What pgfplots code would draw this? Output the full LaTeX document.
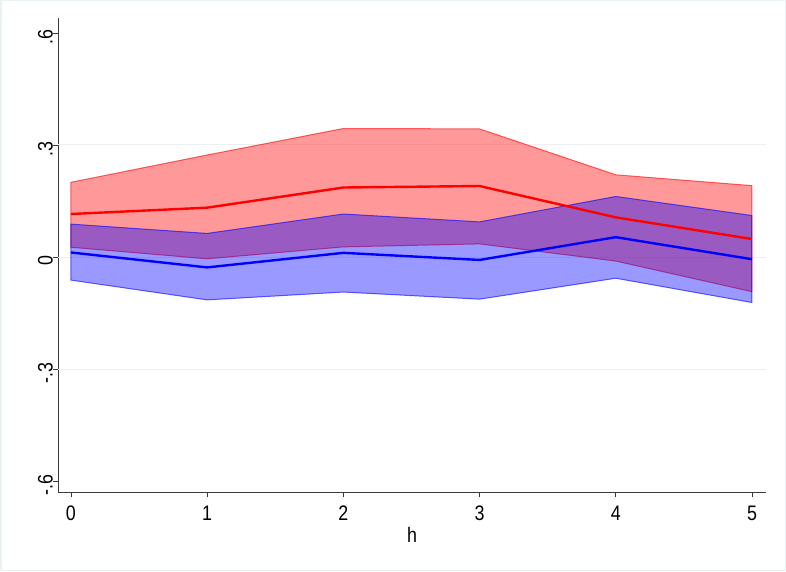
\documentclass[border=0pt]{standalone}
\usepackage{pgfplots}
\pgfplotsset{compat=1.18}
\usepackage{pgfplotstable}
\usepackage{fontspec}
\setmainfont{Liberation Sans}[FakeStretch=0.85]
\definecolor{framecol}{RGB}{234,242,243}
\definecolor{gridcol}{RGB}{234,240,242}
\definecolor{axiscol}{RGB}{60,60,60}
\pgfplotstableread{
h   rmid   bmid
0   0.115  0.012
1   0.132  -0.028
2   0.186  0.011
3   0.190  -0.008
4   0.106  0.053
5   0.048  -0.006
}\midtable
% red band: upper bound then lower bound reversed
\pgfplotstableread{
h  y
0  0.200
1  0.273
2  0.344
3  0.343
4  0.220
5  0.191
5  -0.093
4  -0.011
3  0.035
2  0.027
1  -0.005
0  0.026
}\redband
% blue band: upper bound then lower bound reversed
\pgfplotstableread{
h  y
0  0.088
1  0.063
2  0.115
3  0.094
4  0.162
5  0.111
5  -0.122
4  -0.057
3  -0.113
2  -0.094
1  -0.115
0  -0.062
}\blueband
\begin{document}
\begin{tikzpicture}
\path[use as bounding box] (0,0) rectangle (786pt,571pt);
\fill[white] (0,0) rectangle (786pt,571pt);
\draw[framecol, line width=1.5pt] (0.75pt,0.75pt) rectangle (785.25pt,570.25pt);
\begin{axis}[
  at={(58pt,79pt)}, anchor=south west,
  scale only axis, width=708pt, height=474pt,
  xmin=-0.095, xmax=5.103, ymin=-0.6295, ymax=0.640,
  axis x line*=bottom, axis y line*=left,
  axis line style={axiscol, line width=0.9pt},
  tick align=outside, major tick length=5pt,
  tick style={axiscol, line width=0.8pt},
  xtick={0,1,2,3,4,5},
  ytick={-0.6,-0.3,0,0.3,0.6},
  yticklabels={-.6,-.3,0,.3,.6},
  extra y ticks={-0.3,0,0.3},
  extra y tick labels={},
  extra y tick style={ymajorgrids=true, major tick length=0pt},
  grid style={gridcol, line width=0.9pt},
  /pgf/number format/assume math mode=true,
  ticklabel style={font=\fontsize{21}{25}\selectfont, text=black},
  yticklabel style={rotate=90, anchor=south, inner sep=0pt, xshift=-4pt},
  xticklabel style={anchor=north, inner sep=0pt, yshift=-9pt},
  xlabel={h},
  xlabel style={font=\fontsize{21}{25}\selectfont, inner sep=0pt, yshift=-6pt},
]
\addplot[fill=red, fill opacity=0.4, draw=red, draw opacity=0.6, line width=1pt] table[x=h, y=y] {\redband} -- cycle;
\addplot[fill=blue, fill opacity=0.4, draw=blue, draw opacity=0.6, line width=1pt] table[x=h, y=y] {\blueband} -- cycle;
\addplot[red, line width=2.4pt] table[x=h, y=rmid] {\midtable};
\addplot[blue, line width=2.4pt] table[x=h, y=bmid] {\midtable};
\end{axis}
\end{tikzpicture}
\end{document}
